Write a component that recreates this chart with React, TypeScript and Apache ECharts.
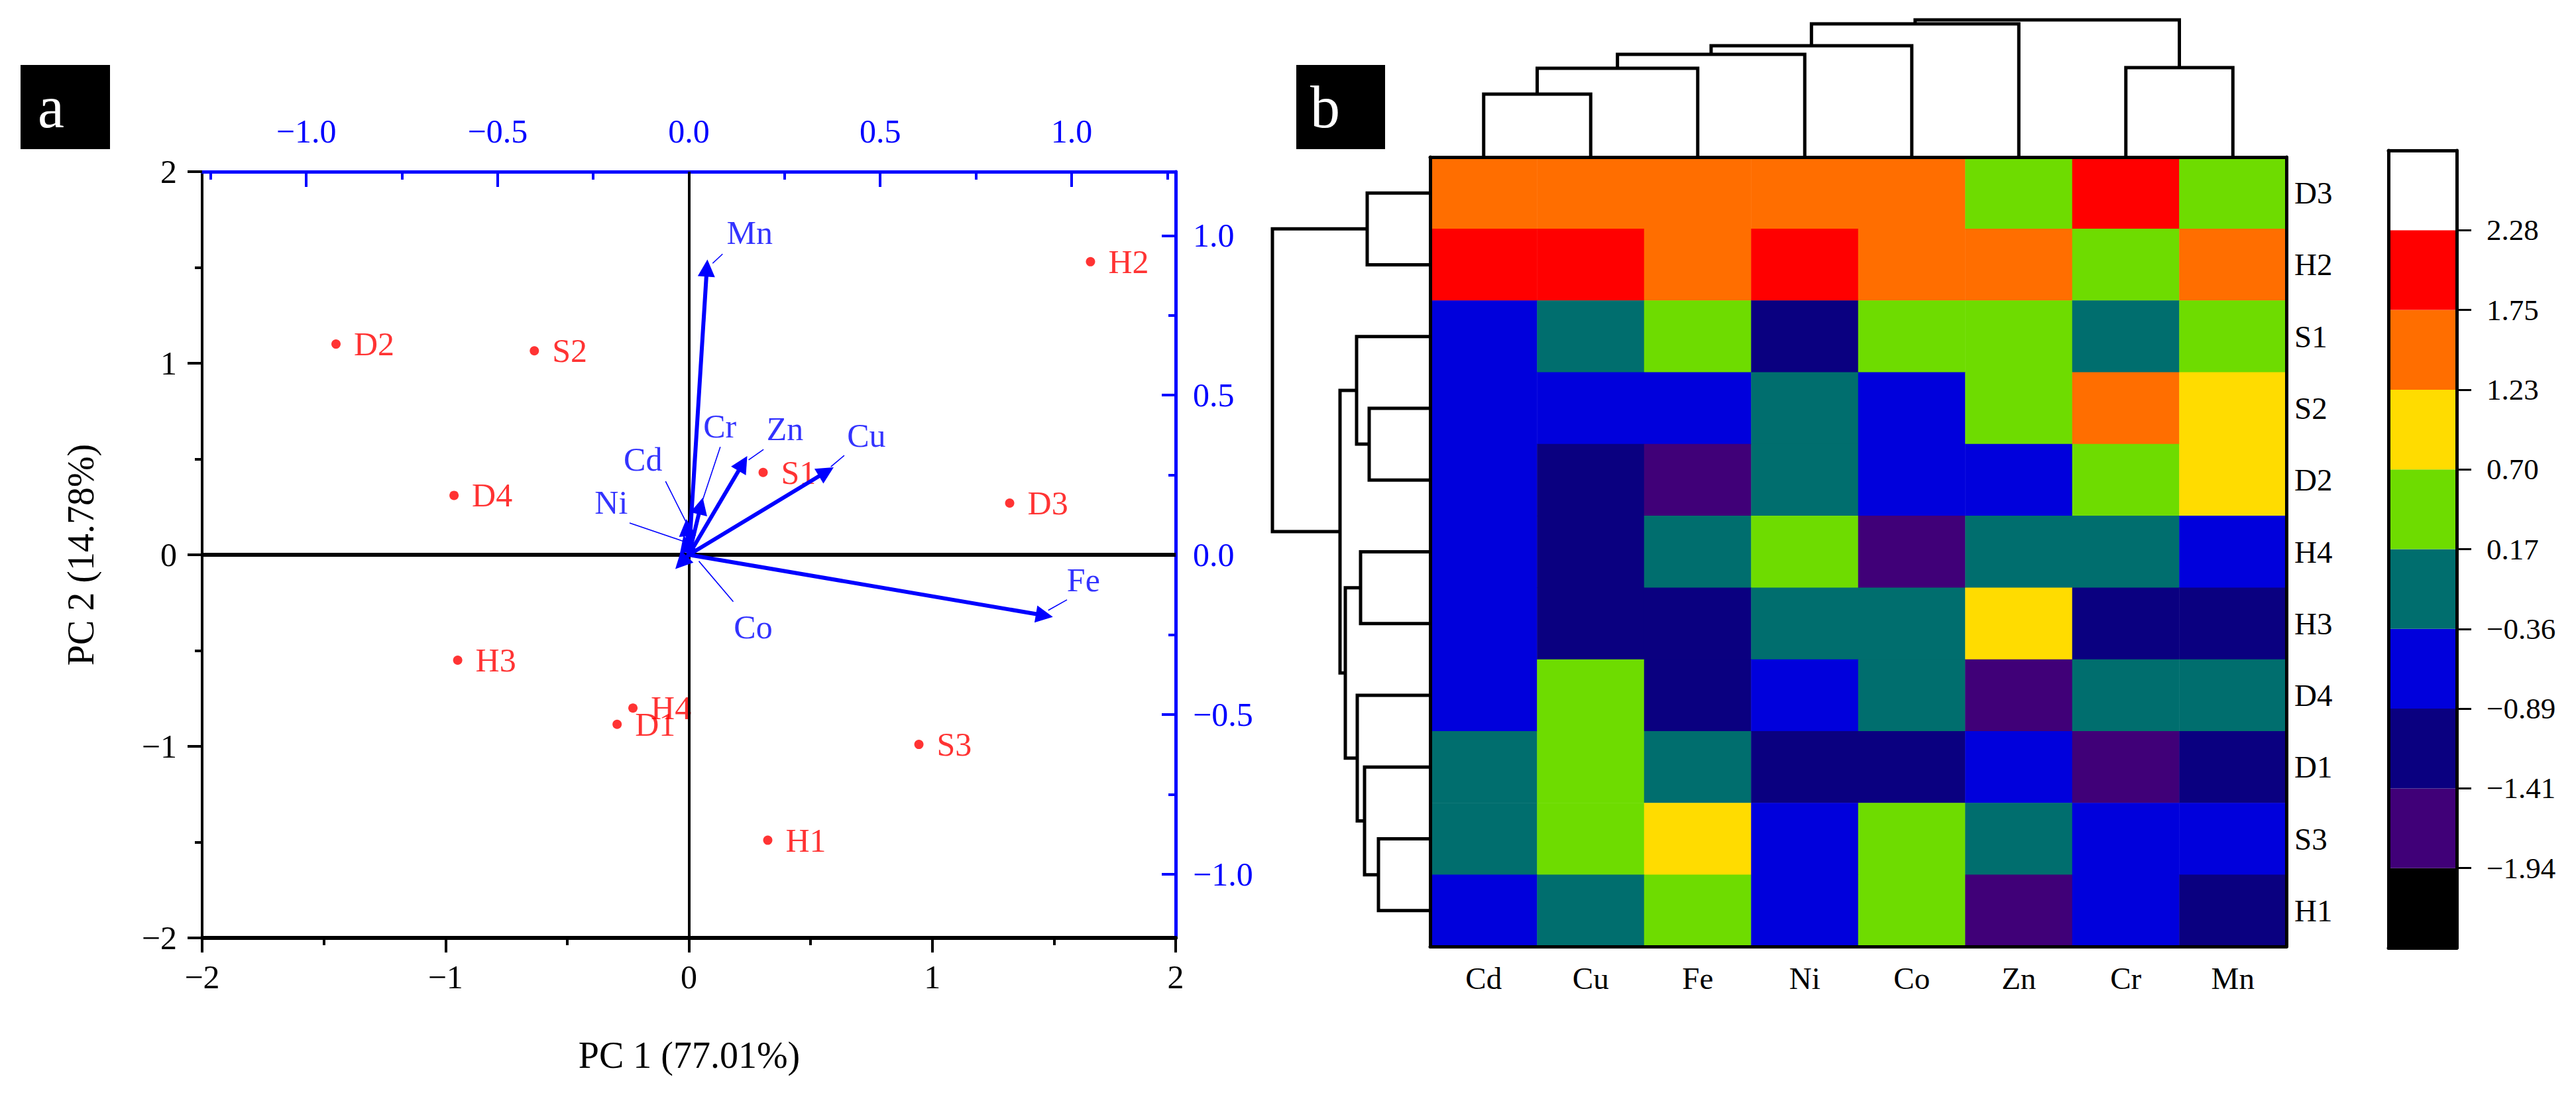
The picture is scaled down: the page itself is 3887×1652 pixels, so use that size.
import React, { useEffect, useRef } from "react";
import * as echarts from "echarts";

const SERIF = '"Liberation Serif", "Times New Roman", serif';
const BLUE = "#0000FF";
const RED = "#FF0000";

// ---------- Panel a: PCA biplot ----------
const sampleNames = ["D2", "S2", "H2", "D4", "S1", "D3", "H3", "H4", "D1", "S3", "H1"];
const pc1Scores = [-1.45, -0.635, 1.65, -0.965, 0.305, 1.318, -0.95, -0.23, -0.295, 0.945, 0.324];
const pc2Scores = [1.1, 1.065, 1.53, 0.31, 0.43, 0.27, -0.55, -0.8, -0.885, -0.99, -1.49];

const elementNames = ["Cd", "Cu", "Fe", "Ni", "Co", "Zn", "Cr", "Mn"];
const pc1Loadings = [-0.005, 0.359, 0.929, -0.008, -0.02, 0.141, 0.031, 0.047];
const pc2Loadings = [0.085, 0.26, -0.19, 0.035, -0.025, 0.286, 0.153, 0.898];
// where each element name sits (loading units) and its leader line
const loadLabelX = [-0.12, 0.464, 1.031, -0.203, 0.168, 0.251, 0.081, 0.159];
const loadLabelY = [0.299, 0.374, -0.079, 0.164, -0.226, 0.394, 0.402, 1.008];
const leaderX1 = [-0.061, 0.406, 0.988, -0.155, 0.116, 0.195, 0.082, 0.088];
const leaderY1 = [0.23, 0.311, -0.141, 0.0996, -0.147, 0.33, 0.338, 0.942];
const leaderX2 = [-0.004, 0.371, 0.939, -0.006, 0.026, 0.156, 0.036, 0.062];
const leaderY2 = [0.094, 0.276, -0.174, 0.039, -0.02, 0.297, 0.172, 0.913];

const loadingMajor = [-1, -0.5, 0, 0.5, 1];
const loadingTopMinor = [-1.25, -0.75, -0.25, 0.25, 0.75, 1.25];
const loadingRightMinor = [-0.75, -0.25, 0.25, 0.75];

// ---------- Panel b: heatmap ----------
const heatRows = ["D3", "H2", "S1", "S2", "D2", "H4", "H3", "D4", "D1", "S3", "H1"];
const heatCols = ["Cd", "Cu", "Fe", "Ni", "Co", "Zn", "Cr", "Mn"];
const heatValues = [
  [1.49, 1.49, 1.49, 1.49, 1.49, 0.43, 2.0, 0.43],
  [2.0, 2.0, 1.49, 2.0, 1.49, 1.49, 0.43, 1.49],
  [-0.62, -0.1, 0.43, -1.15, 0.43, 0.43, -0.1, 0.43],
  [-0.62, -0.62, -0.62, -0.1, -0.62, 0.43, 1.49, 0.96],
  [-0.62, -1.15, -1.67, -0.1, -0.62, -0.62, 0.43, 0.96],
  [-0.62, -1.15, -0.1, 0.43, -1.67, -0.1, -0.1, -0.62],
  [-0.62, -1.15, -1.15, -0.1, -0.1, 0.96, -1.15, -1.15],
  [-0.62, 0.43, -1.15, -0.62, -0.1, -1.67, -0.1, -0.1],
  [-0.1, 0.43, -0.1, -1.15, -1.15, -0.62, -1.67, -1.15],
  [-0.1, 0.43, 0.96, -0.62, 0.43, -0.1, -0.62, -0.62],
  [-0.62, -0.1, 0.43, -0.62, 0.43, -1.67, -0.62, -1.15],
];

const colorBounds = [-1.94, -1.41, -0.89, -0.36, 0.17, 0.7, 1.23, 1.75, 2.28];
const colorBoundLabels = ["−1.94", "−1.41", "−0.89", "−0.36", "0.17", "0.70", "1.23", "1.75", "2.28"];
const bandColors = ["#000000", "#400078", "#0A0080", "#0000DC", "#006E6E", "#6EDC00", "#FFDC00", "#FF6E00", "#FF0000", "#FFFFFF"];

// dendrogram merges: [childA, childB, height]; new cluster ids follow the leaves
const colMerges = [[0, 1, 0.95], [8, 2, 1.34], [9, 3, 1.55], [10, 4, 1.68], [11, 5, 2.01], [6, 7, 1.35], [12, 13, 2.07]];
const rowMerges = [[0, 1, 0.95], [3, 4, 0.92], [2, 12, 1.11], [5, 6, 1.05], [9, 10, 0.78], [8, 15, 0.99], [7, 16, 1.1], [14, 17, 1.28], [13, 18, 1.36], [11, 19, 2.38]];

function dendroSegments(nLeaves: number, merges: number[][]) {
  const pos: number[] = [];
  const ht: number[] = [];
  for (let i = 0; i < nLeaves; i++) { pos.push(i + 0.5); ht.push(0); }
  const segs: number[][] = [];
  merges.forEach(([a, b, h]) => {
    segs.push([pos[a], ht[a], pos[b], ht[b], h]);
    pos.push((pos[a] + pos[b]) / 2);
    ht.push(h);
  });
  return segs;
}

const minus = (s: string) => s.replace("-", "−");

export default function App() {
  const ref = useRef<HTMLDivElement>(null);
  useEffect(() => {
    document.body.style.margin = "0";
    const chart = echarts.init(ref.current!, null, { renderer: "svg" });

    const colSegs = dendroSegments(heatCols.length, colMerges);
    const rowSegs = dendroSegments(heatRows.length, rowMerges).map(([y1, h1, y2, h2, hm]) => [h1, y1, h2, y2, hm]);

    const heatData: number[][] = [];
    heatValues.forEach((row, r) => row.forEach((v, c) => heatData.push([c, r, v])));

    const pieces: any[] = [];
    bandColors.forEach((col, i) => {
      const p: any = { color: col };
      if (i > 0) p.gte = colorBounds[i - 1];
      if (i < colorBounds.length) p.lt = colorBounds[i];
      pieces.push(p);
    });

    const blackLine = (w: number) => ({ show: true, onZero: false, lineStyle: { color: "#000", width: w } });
    const hidden = { show: false };

    const option: any = {
      animation: false,
      backgroundColor: "#fff",
      grid: [
        { left: 305, top: 259, width: 1469, height: 1156, outerBoundsMode: "none" },
        { left: 2158, top: 237, width: 1292, height: 1191, outerBoundsMode: "none" },
        { left: 2158, top: 27, width: 1292, height: 210, outerBoundsMode: "none" },
        { left: 1908, top: 237, width: 250, height: 1191, outerBoundsMode: "none" },
        { left: 3604, top: 227, width: 103, height: 1203, outerBoundsMode: "none" },
      ],
      xAxis: [
        {
          gridIndex: 0, type: "value", position: "bottom", min: -2, max: 2, interval: 1,
          axisLine: blackLine(6),
          axisTick: { show: true, inside: false, length: 22, lineStyle: { color: "#000", width: 4 } },
          minorTick: { show: true, splitNumber: 2, length: 11, lineStyle: { color: "#000", width: 4 } },
          splitLine: hidden,
          axisLabel: { margin: 34, fontSize: 50, fontFamily: SERIF, color: "#000", formatter: (v: number) => minus(String(v)) },
        },
        {
          gridIndex: 0, type: "value", position: "top", min: -1.272, max: 1.272,
          axisLine: { show: true, onZero: false, lineStyle: { color: BLUE, width: 5 } },
          axisTick: { show: true, inside: true, length: 23, customValues: loadingMajor, lineStyle: { color: BLUE, width: 4 } },
          splitLine: hidden,
          axisLabel: { margin: 36, fontSize: 50, fontFamily: SERIF, color: BLUE, customValues: loadingMajor, formatter: (v: number) => minus(v.toFixed(1)) },
        },
        {
          gridIndex: 0, type: "value", position: "top", min: -1.272, max: 1.272,
          axisLine: { show: false, onZero: false },
          axisTick: { show: true, inside: true, length: 12, customValues: loadingTopMinor, lineStyle: { color: BLUE, width: 4 } },
          splitLine: hidden, axisLabel: hidden,
        },
        {
          gridIndex: 1, type: "category", position: "bottom", data: heatCols, z: 10,
          axisLine: blackLine(5), axisTick: hidden, splitLine: hidden,
          axisLabel: { margin: 24, fontSize: 47, fontFamily: SERIF, color: "#000" },
        },
        {
          gridIndex: 1, type: "category", position: "top", data: heatCols, z: 10,
          axisLine: blackLine(5), axisTick: hidden, splitLine: hidden, axisLabel: hidden,
        },
        { gridIndex: 2, type: "value", min: 0, max: heatCols.length, show: false },
        { gridIndex: 3, type: "value", min: 0, max: 2.5, inverse: true, show: false },
        {
          gridIndex: 4, type: "category", position: "bottom", data: [""], z: 10,
          axisLine: blackLine(5), axisTick: hidden, axisLabel: hidden, splitLine: hidden,
        },
        {
          gridIndex: 4, type: "category", position: "top", data: [""], z: 10,
          axisLine: blackLine(5), axisTick: hidden, axisLabel: hidden, splitLine: hidden,
        },
      ],
      yAxis: [
        {
          gridIndex: 0, type: "value", position: "left", min: -2, max: 2, interval: 1,
          axisLine: blackLine(4),
          axisTick: { show: true, inside: false, length: 22, lineStyle: { color: "#000", width: 4 } },
          minorTick: { show: true, splitNumber: 2, length: 11, lineStyle: { color: "#000", width: 4 } },
          splitLine: hidden,
          axisLabel: { margin: 38, fontSize: 50, fontFamily: SERIF, color: "#000", formatter: (v: number) => minus(String(v)) },
        },
        {
          gridIndex: 0, type: "value", position: "right", min: -1.2, max: 1.2,
          axisLine: { show: true, onZero: false, lineStyle: { color: BLUE, width: 5 } },
          axisTick: { show: true, inside: true, length: 21, customValues: loadingMajor, lineStyle: { color: BLUE, width: 4 } },
          splitLine: hidden,
          axisLabel: { margin: 26, fontSize: 50, fontFamily: SERIF, color: BLUE, customValues: loadingMajor, formatter: (v: number) => minus(v.toFixed(1)) },
        },
        {
          gridIndex: 0, type: "value", position: "right", min: -1.2, max: 1.2,
          axisLine: { show: false, onZero: false },
          axisTick: { show: true, inside: true, length: 11, customValues: loadingRightMinor, lineStyle: { color: BLUE, width: 4 } },
          splitLine: hidden, axisLabel: hidden,
        },
        {
          gridIndex: 1, type: "category", position: "right", data: heatRows, inverse: true, z: 10,
          axisLine: blackLine(5), axisTick: hidden, splitLine: hidden,
          axisLabel: { margin: 12, fontSize: 47, fontFamily: SERIF, color: "#000" },
        },
        {
          gridIndex: 1, type: "category", position: "left", data: heatRows, inverse: true, z: 10,
          axisLine: blackLine(5), axisTick: hidden, splitLine: hidden, axisLabel: hidden,
        },
        { gridIndex: 2, type: "value", min: 0, max: 2.1, show: false },
        { gridIndex: 3, type: "value", min: 0, max: heatRows.length, inverse: true, show: false },
        {
          gridIndex: 4, type: "value", position: "right", min: 0, max: bandColors.length, z: 10,
          axisLine: blackLine(5),
          axisTick: { show: true, inside: false, length: 22, customValues: colorBounds.map((_, i) => i + 1), lineStyle: { color: "#000", width: 3 } },
          splitLine: hidden,
          axisLabel: {
            margin: 45, fontSize: 45, fontFamily: SERIF, color: "#000",
            customValues: colorBounds.map((_, i) => i + 1),
            formatter: (v: number) => colorBoundLabels[Math.round(v) - 1] ?? "",
          },
        },
        {
          gridIndex: 4, type: "value", position: "left", min: 0, max: bandColors.length, z: 10,
          axisLine: blackLine(5), axisTick: hidden, axisLabel: hidden, splitLine: hidden,
        },
      ],
      visualMap: {
        type: "piecewise", show: false, seriesIndex: 4, dimension: 2, pieces,
      },
      series: [
        {
          type: "scatter", xAxisIndex: 0, yAxisIndex: 0, z: 3,
          symbolSize: 14, itemStyle: { color: RED },
          data: sampleNames.map((n, i) => ({ name: n, value: [pc1Scores[i], pc2Scores[i]] })),
          label: { show: true, position: "right", distance: 20, formatter: "{b}", color: RED, fontSize: 50, fontFamily: SERIF },
          markLine: {
            silent: true, symbol: ["none", "none"], label: { show: false },
            lineStyle: { color: "#000", type: "solid" },
            data: [
              { yAxis: 0, lineStyle: { color: "#000", width: 6, type: "solid" } },
              { xAxis: 0, lineStyle: { color: "#000", width: 4, type: "solid" } },
            ],
          },
        },
        {
          type: "lines", coordinateSystem: "cartesian2d", xAxisIndex: 1, yAxisIndex: 1, z: 6,
          symbol: ["none", "triangle"], symbolSize: 26,
          lineStyle: { color: BLUE, width: 6, opacity: 1 },
          itemStyle: { color: BLUE },
          data: elementNames.map((n, i) => ({ name: n, coords: [[0, 0], [pc1Loadings[i], pc2Loadings[i]]] })),
        },
        {
          type: "lines", coordinateSystem: "cartesian2d", xAxisIndex: 1, yAxisIndex: 1, z: 5,
          symbol: ["none", "none"],
          lineStyle: { color: BLUE, width: 1.6, opacity: 1 },
          data: elementNames.map((n, i) => ({ name: n, coords: [[leaderX1[i], leaderY1[i]], [leaderX2[i], leaderY2[i]]] })),
        },
        {
          type: "scatter", xAxisIndex: 1, yAxisIndex: 1, z: 7,
          symbolSize: 2, itemStyle: { color: "rgba(0,0,0,0)" },
          data: elementNames.map((n, i) => ({ name: n, value: [loadLabelX[i], loadLabelY[i]] })),
          label: { show: true, position: "inside", formatter: "{b}", color: BLUE, fontSize: 50, fontFamily: SERIF },
        },
        {
          type: "heatmap", xAxisIndex: 3, yAxisIndex: 3, z: 2,
          data: heatData, itemStyle: { borderWidth: 0 },
        },
        {
          type: "custom", xAxisIndex: 5, yAxisIndex: 5, z: 4,
          data: colSegs, encode: { x: [0, 2], y: [1, 3, 4] },
          renderItem: (_p: any, api: any) => {
            const a = api.coord([api.value(0), api.value(1)]);
            const b = api.coord([api.value(0), api.value(4)]);
            const c = api.coord([api.value(2), api.value(4)]);
            const d = api.coord([api.value(2), api.value(3)]);
            return { type: "polyline", shape: { points: [a, b, c, d] }, style: { stroke: "#000", lineWidth: 5, fill: "none" } };
          },
        },
        {
          type: "custom", xAxisIndex: 6, yAxisIndex: 6, z: 4,
          data: rowSegs, encode: { x: [0, 2, 4], y: [1, 3] },
          renderItem: (_p: any, api: any) => {
            const a = api.coord([api.value(0), api.value(1)]);
            const b = api.coord([api.value(4), api.value(1)]);
            const c = api.coord([api.value(4), api.value(3)]);
            const d = api.coord([api.value(2), api.value(3)]);
            return { type: "polyline", shape: { points: [a, b, c, d] }, style: { stroke: "#000", lineWidth: 5, fill: "none" } };
          },
        },
        ...bandColors.map((c) => ({
          type: "bar", xAxisIndex: 7, yAxisIndex: 7, stack: "cb", data: [1], barWidth: "100%", silent: true,
          itemStyle: { color: c },
        })),
      ],
      graphic: [
        { type: "rect", shape: { x: 31, y: 98, width: 135, height: 127 }, style: { fill: "#000" } },
        { type: "text", x: 57, y: 161, style: { text: "a", fill: "#fff", font: `90px ${SERIF}`, verticalAlign: "middle" } },
        { type: "rect", shape: { x: 1956, y: 98, width: 134, height: 127 }, style: { fill: "#000" } },
        { type: "text", x: 1977, y: 161, style: { text: "b", fill: "#fff", font: `90px ${SERIF}`, verticalAlign: "middle" } },
        { type: "text", x: 1040, y: 1592, style: { text: "PC 1 (77.01%)", fill: "#000", font: `56px ${SERIF}`, align: "center", verticalAlign: "middle" } },
        { type: "text", x: 122, y: 837, rotation: Math.PI / 2, style: { text: "PC 2 (14.78%)", fill: "#000", font: `56px ${SERIF}`, align: "center", verticalAlign: "middle" } },
      ],
    };

    chart.setOption(option);
    return () => chart.dispose();
  }, []);

  return <div ref={ref} style={{ position: "absolute", left: 0, top: 0, width: 3887, height: 1652 }} />;
}
